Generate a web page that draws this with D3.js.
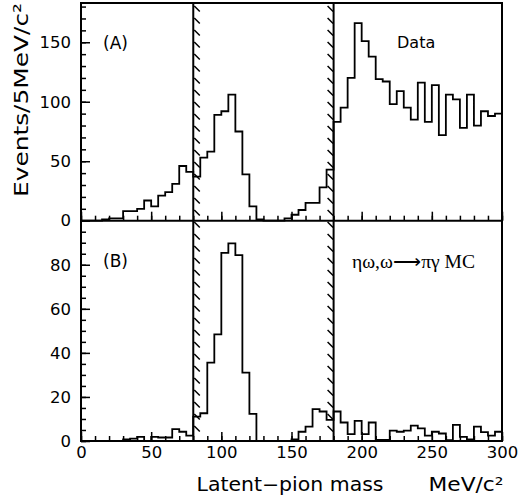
<!DOCTYPE html>
<html>
<head>
<meta charset="utf-8">
<script src="https://cdn.jsdelivr.net/npm/d3@7"></script>
<style>
  body { margin: 0; background: #fff; }
  text { font-family: "DejaVu Sans", sans-serif; }
</style>
</head>
<body>
<script>
// 5 MeV bins, 0..300
const binLow = d3.range(0, 300, 5);

// (A) data, events per bin
const dataA = [
  0, 0, 0, 1, 2, 2, 8, 8, 10, 17, 12, 21, 24, 31, 46, 41,
  37, 53, 58, 89, 92, 106, 75, 39, 12, 1, 0, 0, 0, 2, 5, 9, 15, 15, 28, 43,
  83, 95, 120, 166, 151, 138, 119, 117, 98, 109, 95, 85, 116, 83, 114, 72,
  106, 102, 78, 106, 80, 92, 88, 90
];

// (B) eta omega, omega -> pi gamma MC
const dataB = [
  0, 0, 0, 0, 0, 0, 0.7, 1.1, 1.9, 0, 1.9, 1.6, 1.6, 5.4, 4.2, 2.4,
  11.1, 12.6, 35.6, 48.4, 85.4, 89.7, 84.4, 31, 12.3, 0, 0, 0, 0, 0, 0.7, 4.2, 6.5, 14.5, 13.4, 9.6,
  13.4, 8.4, 3.1, 9.1, 3.1, 8.4, 0.5, 0.5, 4.7, 4.2, 4.7, 7, 5.7, 2.4, 4.2, 3.4,
  0.4, 7.3, 1.9, 0.7, 6.5, 4, 2.4, 4.2
];

const ticksX = [0, 50, 100, 150, 200, 250, 300];
const ticksA = [0, 50, 100, 150];
const ticksB = [0, 20, 40, 60, 80];
const cuts = [80, 180];      // thick cut lines
const bands = [[80, 85], [175, 180]];  // hatched side of each cut

const width = 520, height = 497;

const svg = d3.select("body").append("svg")
  .attr("width", width)
  .attr("height", height);

const x = d3.scaleLinear().domain([0, 300]).range([81, 502]);
const yA = d3.scaleLinear().domain([0, 183]).range([220.7, 3]);
const yB = d3.scaleLinear().domain([0, 100]).range([441, 220.7]);

// hatched bands
const hatch = svg.append("g").attr("stroke", "#000").attr("stroke-width", 1.5);
bands.forEach(([a, b]) => {
  const x0 = x(a) + 1, x1 = x(b) - 0.5;
  const step = 12;
  for (let yy = 6; yy < 434; yy += step) {
    hatch.append("line")
      .attr("x1", x0).attr("y1", yy)
      .attr("x2", x1).attr("y2", yy + (x1 - x0));
  }
});

// histograms
function drawHist(vals, y) {
  const pts = binLow.map((b, i) => [b, vals[i]]);
  pts.push([300, vals[vals.length - 1]]);
  const line = d3.line()
    .x(d => x(d[0]))
    .y(d => y(d[1]))
    .curve(d3.curveStepAfter);
  svg.append("path")
    .datum(pts)
    .attr("d", line)
    .attr("fill", "none")
    .attr("stroke", "#000")
    .attr("stroke-width", 1.8);
}
drawHist(dataA, yA);
drawHist(dataB, yB);

// axes
function styleAxis(g) {
  g.select(".domain").remove();
  g.selectAll("line").attr("stroke", "#000").attr("stroke-width", 1.5);
  g.selectAll("text").style("font-size", "16.5px").attr("fill", "#000");
}

svg.append("g").attr("transform", "translate(81,0)")
  .call(d3.axisLeft(yA).tickValues(ticksA).tickSizeInner(-9).tickPadding(10))
  .call(styleAxis);
svg.append("g").attr("transform", "translate(81,0)")
  .call(d3.axisLeft(yA).tickValues(d3.range(0, 183, 10)).tickSizeInner(-5).tickFormat(""))
  .call(styleAxis);

svg.append("g").attr("transform", "translate(81,0)")
  .call(d3.axisLeft(yB).tickValues(ticksB).tickSizeInner(-9).tickPadding(10))
  .call(styleAxis);
svg.append("g").attr("transform", "translate(81,0)")
  .call(d3.axisLeft(yB).tickValues(d3.range(0, 100, 5)).tickSizeInner(-5).tickFormat(""))
  .call(styleAxis);

[yA, yB].forEach((y, k) => {
  const y0 = y.range()[0];
  svg.append("g").attr("transform", `translate(0,${y0})`)
    .call(d3.axisBottom(x).tickValues(ticksX).tickSizeInner(-9).tickPadding(5)
      .tickFormat(k === 1 ? d3.format("d") : ""))
    .call(styleAxis);
  svg.append("g").attr("transform", `translate(0,${y0})`)
    .call(d3.axisBottom(x).tickValues(d3.range(0, 301, 10)).tickSizeInner(-5).tickFormat(""))
    .call(styleAxis);
});

// frame + cut lines
const frame = svg.append("g").attr("stroke", "#000").attr("stroke-width", 2).attr("fill", "none");
frame.append("rect")
  .attr("x", x(0)).attr("y", yA(183))
  .attr("width", x(300) - x(0)).attr("height", yB(0) - yA(183));
frame.append("line")
  .attr("x1", x(0)).attr("x2", x(300))
  .attr("y1", yA(0)).attr("y2", yA(0));
cuts.forEach(c => {
  frame.append("line")
    .attr("x1", x(c)).attr("x2", x(c))
    .attr("y1", yA(183)).attr("y2", yB(0));
});

// labels
svg.append("text").attr("x", 103).attr("y", 49).style("font-size", "17px").text("(A)");
svg.append("text").attr("x", 103).attr("y", 267).style("font-size", "17px").text("(B)");
svg.append("text").attr("x", 397).attr("y", 48).style("font-size", "16px").text("Data");
svg.append("text").attr("x", 352).attr("y", 268)
  .style("font-family", "'Liberation Serif', serif").style("font-size", "18px")
  .attr("textLength", 123).attr("lengthAdjust", "spacingAndGlyphs")
  .text("ηω,ω⟶πγ MC");

svg.append("text")
  .attr("transform", "translate(28,100) rotate(-90)")
  .attr("text-anchor", "middle")
  .style("font-size", "20px")
  .attr("textLength", 194).attr("lengthAdjust", "spacingAndGlyphs")
  .text("Events/5MeV/c²");

svg.append("text").attr("x", 290).attr("y", 491)
  .attr("text-anchor", "middle").style("font-size", "19px")
  .attr("textLength", 187).attr("lengthAdjust", "spacingAndGlyphs")
  .text("Latent−pion mass");
svg.append("text").attr("x", 466).attr("y", 491)
  .attr("text-anchor", "middle").style("font-size", "19px")
  .attr("textLength", 75).attr("lengthAdjust", "spacingAndGlyphs")
  .text("MeV/c²");
</script>
</body>
</html>
